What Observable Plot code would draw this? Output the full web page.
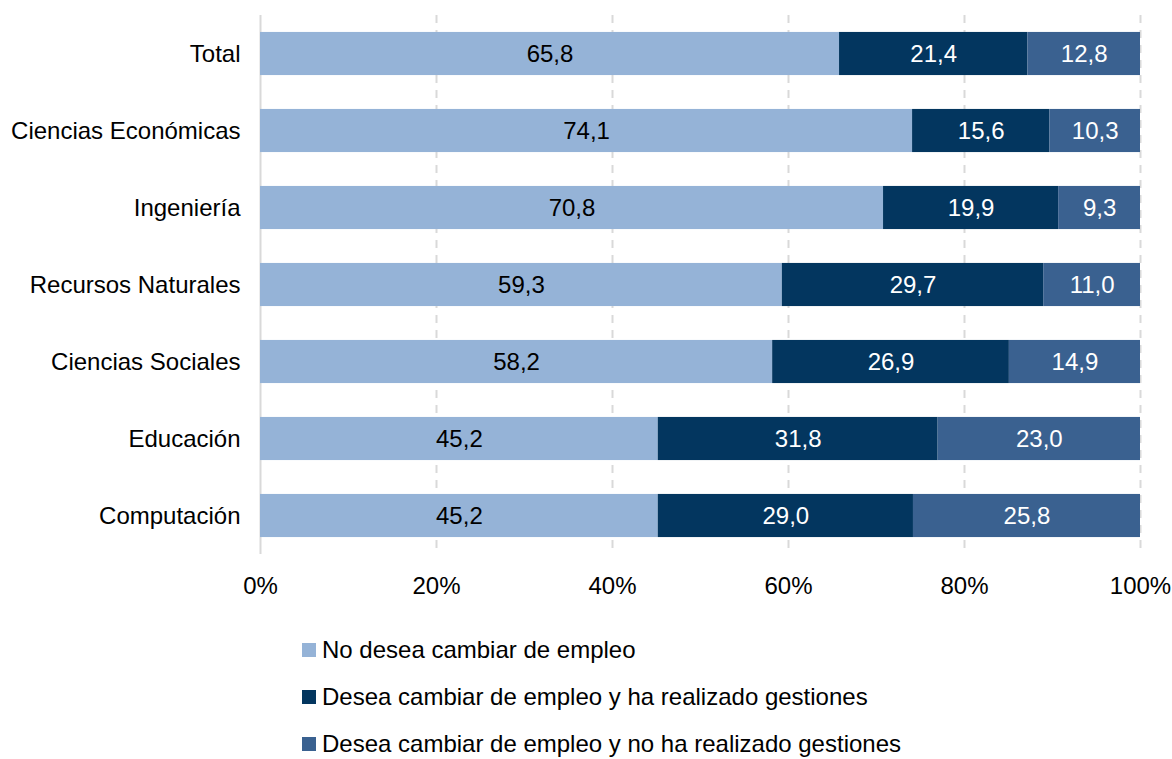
<!DOCTYPE html>
<html><head><meta charset="utf-8">
<script src="https://cdn.jsdelivr.net/npm/d3@7"></script>
<script src="https://cdn.jsdelivr.net/npm/@observablehq/plot@0.6"></script>
<style>
body{margin:0;background:#fff;font-family:"Liberation Sans",Arial,sans-serif;}
#legend{margin-left:302px;margin-top:16px;}
.item{display:flex;align-items:center;height:47px;font-size:24px;color:#000;white-space:nowrap;}
.sw{width:14px;height:14px;margin-right:6px;flex:none;}
</style></head>
<body><div id="chart"></div><div id="legend"></div>
<script>
const categories = ["Total","Ciencias Económicas","Ingeniería","Recursos Naturales","Ciencias Sociales","Educación","Computación"];
const seriesNames = ["No desea cambiar de empleo","Desea cambiar de empleo y ha realizado gestiones","Desea cambiar de empleo y no ha realizado gestiones"];
const noDesea = [65.8,74.1,70.8,59.3,58.2,45.2,45.2];
const haRealizado = [21.4,15.6,19.9,29.7,26.9,31.8,29.0];
const noHaRealizado = [12.8,10.3,9.3,11.0,14.9,23.0,25.8];
const colors = ["#95B3D7","#03365F","#3A6190"];
const textColors = ["#000","#fff","#fff"];
const xTicks = [0,20,40,60,80,100];

const seriesVals = [noDesea, haRealizado, noHaRealizado];
const data = [];
seriesVals.forEach((vals,si)=>vals.forEach((v,ci)=>data.push({cat:categories[ci],series:seriesNames[si],si,value:v})));

const chart = Plot.plot({
  width:1172, height:610,
  marginLeft:260, marginRight:32, marginTop:15, marginBottom:56,
  style:{fontFamily:"Liberation Sans, Arial, sans-serif", fontSize:"24px", color:"#000", background:"#fff"},
  x:{domain:[0,100], ticks:xTicks, tickFormat:d=>d+"%", label:null},
  y:{domain:categories, paddingInner:0.44, paddingOuter:0.22, round:false, label:null},
  color:{domain:seriesNames, range:colors},
  marks:[
    Plot.ruleX(xTicks.filter(d=>d>0),{stroke:"#d9d9d9",strokeWidth:2,strokeDasharray:"8,7"}),
    Plot.ruleX([0],{stroke:"#d9d9d9",strokeWidth:2}),
    Plot.barX(data, Plot.stackX({x:"value", y:"cat", fill:"series", order:"si"})),
    Plot.text(data, Plot.stackX({x:"value", y:"cat", order:"si", text:d=>d.value.toFixed(1).replace(".",","), fill:d=>textColors[d.si], fontSize:24})),
    Plot.axisX({ticks:xTicks, tickFormat:d=>d+"%", tickSize:0, tickPadding:22, fontSize:24, label:null}),
    Plot.axisY({tickSize:0, tickPadding:20, fontSize:24, label:null})
  ]
});
document.getElementById("chart").appendChild(chart);
const leg = document.getElementById("legend");
seriesNames.forEach((s,i)=>{
  const d=document.createElement("div");d.className="item";
  d.innerHTML=`<span class="sw" style="background:${colors[i]}"></span><span>${s}</span>`;
  leg.appendChild(d);
});
</script></body></html>
